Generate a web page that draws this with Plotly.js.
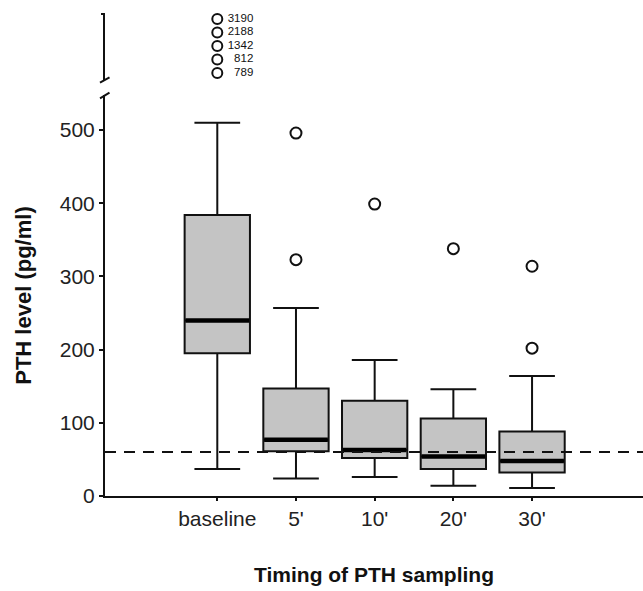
<!DOCTYPE html>
<html>
<head>
<meta charset="utf-8">
<script src="https://cdn.plot.ly/plotly-3.0.1.min.js"></script>
<style>html,body{margin:0;padding:0;background:#fff;}#chart{width:643px;height:591px;}</style>
</head>
<body>
<div id="chart"></div>
<script>
// ---- data ----
const categories = ['baseline', "5'", "10'", "20'", "30'"];
const lowerWhisker = [37, 24, 26, 14, 11];
const q1 = [195, 61, 52, 37, 32];
const median = [240, 77, 63, 54, 48];
const q3 = [384, 147, 130, 106, 88];
const upperWhisker = [510, 257, 186, 146, 164];

const outlierCats = ["5'", "5'", "10'", "20'", "30'", "30'"];
const outlierVals = [496, 323, 399, 338, 314, 202];

// extreme baseline outliers shown above the axis break
const extremeCat = 'baseline';
const extremeVals = [3190, 2188, 1342, 812, 789];

const referenceLevel = 60;
const yTickVals = [0, 100, 200, 300, 400, 500];

// ---- build ----
const font = 'Liberation Sans, Arial, sans-serif';
const extremeSorted = extremeVals.slice().sort((a, b) => a - b).map(String);

const traces = [
  {
    type: 'box',
    x: categories,
    q1: q1, median: median, q3: q3,
    lowerfence: lowerWhisker, upperfence: upperWhisker,
    width: 0.83,
    whiskerwidth: 0.7,
    fillcolor: '#c4c4c4',
    line: {color: '#111', width: 2},
    boxpoints: false,
    hoverinfo: 'skip',
    showlegend: false
  },
  {
    type: 'scatter', mode: 'markers',
    x: categories, y: median,
    marker: {symbol: 'line-ew', size: 45.5, color: '#000', line: {color: '#000', width: 4.5}},
    hoverinfo: 'skip', showlegend: false
  },
  {
    type: 'scatter', mode: 'markers',
    x: outlierCats, y: outlierVals,
    marker: {symbol: 'circle-open', size: 11, color: '#111', line: {width: 2}},
    hoverinfo: 'skip', showlegend: false
  },
  {
    type: 'scatter', mode: 'markers+text',
    x: extremeVals.map(() => extremeCat),
    y: extremeVals.map(String),
    yaxis: 'y2',
    text: extremeVals.map(v => ' ' + String(v).padStart(4, '\u2007')),
    textposition: 'middle right',
    textfont: {family: font, size: 11.5, color: '#111'},
    marker: {symbol: 'circle-open', size: 10, color: '#111', line: {width: 2}},
    hoverinfo: 'skip', showlegend: false,
    cliponaxis: false
  }
];

const W = 538, H = 482;
const px = v => (v - 105) / W;
const py = v => (496 - v) / H;

const layout = {
  width: 643, height: 591,
  margin: {l: 105, r: 0, t: 14, b: 95},
  paper_bgcolor: '#fff', plot_bgcolor: '#fff',
  font: {family: font, color: '#222'},
  showlegend: false,
  xaxis: {
    type: 'category',
    categoryorder: 'array', categoryarray: categories,
    range: [-1.427, 5.41],
    showline: true, linecolor: '#111', linewidth: 2,
    ticks: 'outside', ticklen: 3, tickwidth: 2, tickcolor: '#111',
    tickfont: {family: font, size: 21, color: '#222'},
    showgrid: false, zeroline: false,
    title: {text: 'Timing of PTH sampling', standoff: 38,
            font: {family: font, size: 21, color: '#111', weight: 'bold'}},
    automargin: false
  },
  yaxis: {
    domain: [0, py(95)],
    range: [0, 548],
    tickvals: yTickVals,
    showline: true, linecolor: '#111', linewidth: 2,
    ticks: 'outside', ticklen: 4, tickwidth: 2, tickcolor: '#111',
    tickfont: {family: font, size: 21, color: '#222'},
    showgrid: false, zeroline: false,
    title: {text: 'PTH level (pg/ml)', standoff: 22,
            font: {family: font, size: 22, color: '#111', weight: 'bold'}},
    automargin: false
  },
  yaxis2: {
    domain: [py(80), 1],
    anchor: 'x',
    type: 'category',
    categoryorder: 'array', categoryarray: extremeSorted,
    range: [-0.52, 4.37],
    showline: true, linecolor: '#111', linewidth: 2,
    showticklabels: false, ticks: '', showgrid: false, zeroline: false
  },
  shapes: [
    {type: 'line', xref: 'paper', yref: 'y', x0: 0, x1: 1, y0: referenceLevel, y1: referenceLevel,
     line: {color: '#111', width: 2, dash: '11px,8px'}, layer: 'above'},
    {type: 'line', xref: 'paper', yref: 'paper', x0: px(100), x1: px(109.5), y0: py(82.7), y1: py(77.3),
     line: {color: '#111', width: 2}},
    {type: 'line', xref: 'paper', yref: 'paper', x0: px(100), x1: px(109.5), y0: py(98.3), y1: py(92.7),
     line: {color: '#111', width: 2}},
    {type: 'line', xref: 'paper', yref: 'paper', x0: px(101), x1: px(105), y0: 1, y1: 1,
     line: {color: '#111', width: 2}}
  ]
};

Plotly.newPlot('chart', traces, layout, {staticPlot: true, displayModeBar: false});
</script>
</body>
</html>
